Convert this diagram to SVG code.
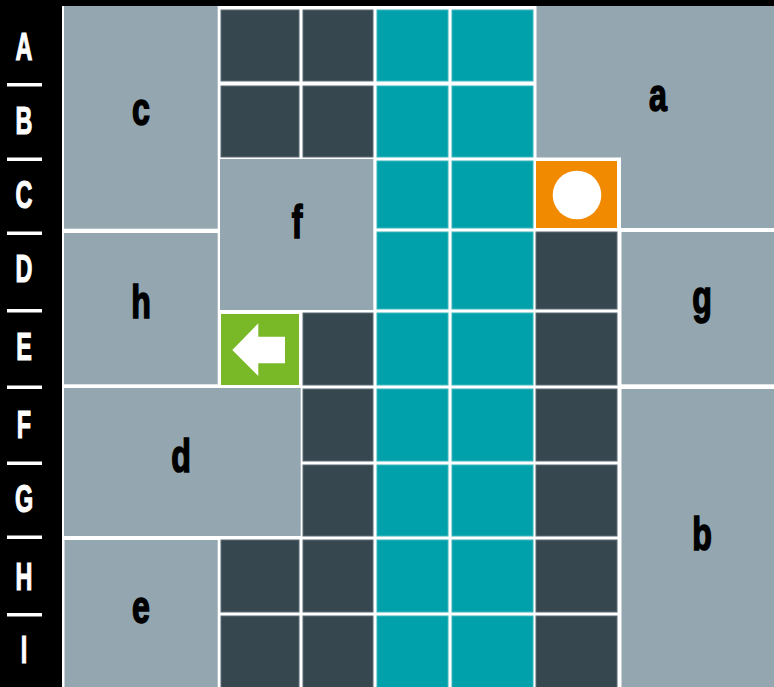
<svg xmlns="http://www.w3.org/2000/svg" width="774" height="687" viewBox="0 0 774 687">
<defs>
<style>
.bg{fill:#000}
.grid{fill:#fff}
.blk{fill:#94a6af}
.dk{fill:#37474f;stroke:#5d6d76;stroke-width:1}
.tl{fill:#00a1ab;stroke:#3cb6be;stroke-width:1}
.or{fill:#f28a00}
.gr{fill:#79b928}
.sep{fill:#fff}
.row{font-family:"Liberation Sans",Arial,sans-serif;font-weight:bold;font-size:39px;fill:#fff;stroke:#fff;stroke-width:1.2;text-anchor:middle}
.lbl{font-family:"Liberation Sans",Arial,sans-serif;font-weight:bold;font-size:46px;fill:#000;stroke:#000;stroke-width:1.6;text-anchor:middle}
</style>
</defs>
<rect class="bg" x="0" y="0" width="774" height="687"/>
<rect class="grid" x="62" y="6" width="712" height="681"/>

<g id="row-labels">
<rect class="sep" x="7" y="83" width="35" height="3.5"/>
<rect class="sep" x="7" y="157.5" width="35" height="3.5"/>
<rect class="sep" x="7" y="231.5" width="35" height="3.5"/>
<rect class="sep" x="7" y="309" width="35" height="3.5"/>
<rect class="sep" x="7" y="385.5" width="35" height="3.5"/>
<rect class="sep" x="7" y="461.5" width="35" height="3.5"/>
<rect class="sep" x="7" y="535.5" width="35" height="3.5"/>
<rect class="sep" x="7" y="613" width="35" height="3.5"/>
<text class="row" transform="translate(24,60) scale(0.6,1)">A</text>
<text class="row" transform="translate(24,134) scale(0.6,1)">B</text>
<text class="row" transform="translate(24,208) scale(0.6,1)">C</text>
<text class="row" transform="translate(24,282) scale(0.6,1)">D</text>
<text class="row" transform="translate(24,360) scale(0.6,1)">E</text>
<text class="row" transform="translate(24,438) scale(0.6,1)">F</text>
<text class="row" transform="translate(24,512) scale(0.6,1)">G</text>
<text class="row" transform="translate(24,590) scale(0.6,1)">H</text>
<text class="row" transform="translate(24,663) scale(0.6,1)">I</text>
</g>

<g id="block-a"><path class="blk" d="M536.5 6H774V228H621V157.5H536.5Z"/><text class="lbl" transform="translate(658,111) scale(0.7,1)">a</text></g>
<g id="block-b"><rect class="blk" x="621.5" y="389" width="152.5" height="298"/><text class="lbl" transform="translate(702,550) scale(0.7,1)">b</text></g>
<g id="block-c"><rect class="blk" x="64" y="6" width="153.7" height="222.7"/><text class="lbl" transform="translate(141,125) scale(0.7,1)">c</text></g>
<g id="block-d"><rect class="blk" x="64" y="388" width="236.7" height="148"/><text class="lbl" transform="translate(181,472) scale(0.7,1)">d</text></g>
<g id="block-e"><rect class="blk" x="64.5" y="540" width="153.2" height="147"/><text class="lbl" transform="translate(141,623) scale(0.7,1)">e</text></g>
<g id="block-f"><rect class="blk" x="220" y="159" width="153.3" height="151"/><text class="lbl" transform="translate(297,238) scale(0.7,1)">f</text></g>
<g id="block-g"><rect class="blk" x="621.5" y="232" width="152.5" height="152.3"/><text class="lbl" transform="translate(702,313) scale(0.7,1)">g</text></g>
<g id="block-h"><rect class="blk" x="64" y="233" width="153.7" height="151.3"/><text class="lbl" transform="translate(141,318) scale(0.7,1)">h</text></g>

<g id="cells">
<g id="A1"><rect class="dk" x="221" y="10" width="78" height="71"/></g>
<g id="A2"><rect class="dk" x="303" y="10" width="70" height="71"/></g>
<g id="A3"><rect class="tl" x="377" y="10" width="71" height="71"/></g>
<g id="A4"><rect class="tl" x="452" y="10" width="81" height="71"/></g>
<g id="B1"><rect class="dk" x="221" y="86" width="78" height="71"/></g>
<g id="B2"><rect class="dk" x="303" y="86" width="70" height="71"/></g>
<g id="B3"><rect class="tl" x="377" y="86" width="71" height="71"/></g>
<g id="B4"><rect class="tl" x="452" y="86" width="81" height="71"/></g>
<g id="C3"><rect class="tl" x="377" y="161" width="71" height="67"/></g>
<g id="C4"><rect class="tl" x="452" y="161" width="81" height="67"/></g>
<g id="C5"><rect class="or" x="536" y="161" width="81" height="67"/><circle cx="577" cy="195" r="24.3" fill="#fff"/></g>
<g id="D3"><rect class="tl" x="377" y="232" width="71" height="77"/></g>
<g id="D4"><rect class="tl" x="452" y="232" width="81" height="77"/></g>
<g id="D5"><rect class="dk" x="536" y="232" width="81" height="77"/></g>
<g id="E1"><rect class="gr" x="221" y="314" width="78" height="71"/><path fill="#fff" d="M232.3 350L258.3 323.3V336.7H285V363.3H258.3V376Z"/></g>
<g id="E2"><rect class="dk" x="303" y="313" width="70" height="72"/></g>
<g id="E3"><rect class="tl" x="377" y="313" width="71" height="72"/></g>
<g id="E4"><rect class="tl" x="452" y="313" width="81" height="72"/></g>
<g id="E5"><rect class="dk" x="536" y="313" width="81" height="72"/></g>
<g id="F2"><rect class="dk" x="303" y="389" width="70" height="72"/></g>
<g id="F3"><rect class="tl" x="377" y="389" width="71" height="72"/></g>
<g id="F4"><rect class="tl" x="452" y="389" width="81" height="72"/></g>
<g id="F5"><rect class="dk" x="536" y="389" width="81" height="72"/></g>
<g id="G2"><rect class="dk" x="303" y="465" width="70" height="71"/></g>
<g id="G3"><rect class="tl" x="377" y="465" width="71" height="71"/></g>
<g id="G4"><rect class="tl" x="452" y="465" width="81" height="71"/></g>
<g id="G5"><rect class="dk" x="536" y="465" width="81" height="71"/></g>
<g id="H1"><rect class="dk" x="221" y="540" width="78" height="72"/></g>
<g id="H2"><rect class="dk" x="303" y="540" width="70" height="72"/></g>
<g id="H3"><rect class="tl" x="377" y="540" width="71" height="72"/></g>
<g id="H4"><rect class="tl" x="452" y="540" width="81" height="72"/></g>
<g id="H5"><rect class="dk" x="536" y="540" width="81" height="72"/></g>
<g id="I1"><rect class="dk" x="221" y="616" width="78" height="72"/></g>
<g id="I2"><rect class="dk" x="303" y="616" width="70" height="72"/></g>
<g id="I3"><rect class="tl" x="377" y="616" width="71" height="72"/></g>
<g id="I4"><rect class="tl" x="452" y="616" width="81" height="72"/></g>
<g id="I5"><rect class="dk" x="536" y="616" width="81" height="72"/></g>
</g>
<rect class="bg" x="0" y="0" width="774" height="6"/>
</svg>
